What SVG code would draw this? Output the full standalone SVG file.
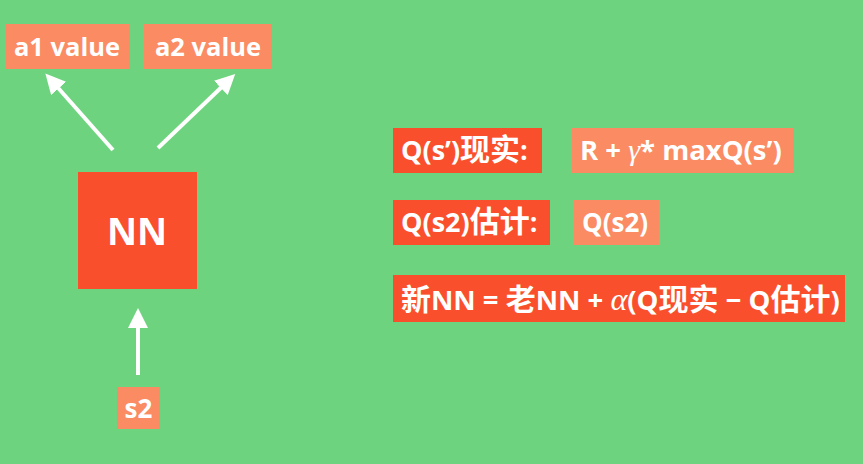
<svg xmlns="http://www.w3.org/2000/svg" width="863" height="464" viewBox="0 0 863 464">
<defs>
<style>
.red{fill:#fa4f2c}
.ora{fill:#fa8b63}
.t{fill:#ffffff;font-family:"Open Sans","Noto Sans CJK SC",sans-serif;font-weight:bold}
.k{font-family:"Noto Sans CJK SC",sans-serif;font-size:30px}
.m{font-family:"Liberation Serif",serif;font-style:italic;font-weight:normal}
.c{stroke:#ffffff;stroke-width:4;fill:none}
</style>
<marker id="ah" markerWidth="5" markerHeight="5" refX="2.5" refY="2.5" orient="auto" markerUnits="strokeWidth" viewBox="0 0 5 5">
<path d="M0,0 L5,2.5 L0,5 Z" fill="#ffffff"/>
</marker>
</defs>
<rect width="863" height="464" fill="#6dd37e"/>
<g id="connectors">
<line class="c" x1="113" y1="150" x2="52" y2="81" marker-end="url(#ah)"/>
<line class="c" x1="158" y1="148" x2="228" y2="81" marker-end="url(#ah)"/>
<line class="c" x1="138" y1="375" x2="138" y2="318" marker-end="url(#ah)"/>
</g>
<g id="a1">
<rect class="ora" x="6" y="24" width="124" height="45"/>
<text class="t" x="67" y="56" font-size="25.5" text-anchor="middle">a1 value</text>
</g>
<g id="a2">
<rect class="ora" x="144" y="24" width="128" height="45"/>
<text class="t" x="208" y="56" font-size="25.5" text-anchor="middle">a2 value</text>
</g>
<g id="nn">
<rect class="red" x="78" y="172" width="119" height="117"/>
<text class="t" x="137" y="245" font-size="37" text-anchor="middle">NN</text>
</g>
<g id="s2">
<rect class="ora" x="117" y="387" width="43" height="42"/>
<text class="t" x="138.5" y="418" font-size="26" text-anchor="middle">s2</text>
</g>
<g id="qreal">
<rect class="red" x="393" y="128" width="149" height="45"/>
<text class="t" x="401" y="160" font-size="27">Q(s’)<tspan class="k">现实</tspan>:</text>
</g>
<g id="qrealval">
<rect class="ora" x="572" y="128" width="222" height="45"/>
<text class="t" x="580" y="160" font-size="27.5">R + <tspan class="m" font-size="30">γ</tspan>* maxQ(s’)</text>
</g>
<g id="qest">
<rect class="red" x="393" y="200" width="157" height="45"/>
<text class="t" x="401" y="232" font-size="27">Q(s2)<tspan class="k">估计</tspan>:</text>
</g>
<g id="qestval">
<rect class="ora" x="574" y="200" width="85" height="45"/>
<text class="t" x="582" y="232" font-size="26">Q(s2)</text>
</g>
<g id="update">
<rect class="red" x="393" y="275" width="452" height="47"/>
<text class="t" x="401" y="310" font-size="27.5"><tspan class="k">新</tspan>NN = <tspan class="k">老</tspan>NN + <tspan class="m" font-size="32">α</tspan>(Q<tspan class="k">现实</tspan> − Q<tspan class="k">估计</tspan>)</text>
</g>
</svg>
